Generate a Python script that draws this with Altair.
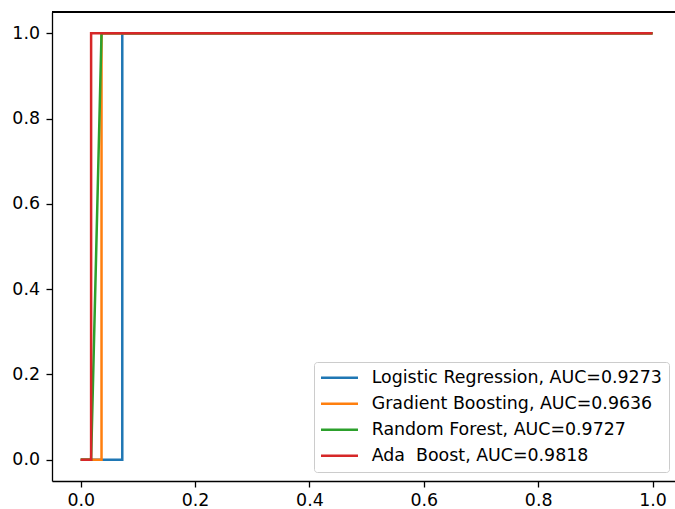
import altair as alt
import pandas as pd

models = ["Logistic Regression, AUC=0.9273", "Gradient Boosting, AUC=0.9636",
          "Random Forest, AUC=0.9727", "Ada\u00a0 Boost, AUC=0.9818"]
colors = ["#1f77b4", "#ff7f0e", "#2ca02c", "#d62728"]
fpr = [
    [0.0, 0.0727, 0.0727, 1.0],
    [0.0, 0.0364, 0.0364, 1.0],
    [0.0, 0.0182, 0.0364, 1.0],
    [0.0, 0.0182, 0.0182, 1.0],
]
tpr = [
    [0.0, 0.0, 1.0, 1.0],
    [0.0, 0.0, 1.0, 1.0],
    [0.0, 0.0, 1.0, 1.0],
    [0.0, 0.0, 1.0, 1.0],
]
ticks = [0.0, 0.2, 0.4, 0.6, 0.8, 1.0]

rows = []
for m, xs, ys in zip(models, fpr, tpr):
    for i, (x, y) in enumerate(zip(xs, ys)):
        rows.append({"model": m, "fpr": x, "tpr": y, "i": i})
df = pd.DataFrame(rows)

W, H = 623, 469
FS = 17.4
FONT = "DejaVu Sans"

axis_common = dict(
    grid=False, domainColor="black", domainWidth=1.3, tickColor="black",
    tickWidth=1.3, tickSize=6, labelFontSize=FS,
    labelFont=FONT, labelColor="black", title=None, values=ticks, format=".1f",
    labelFlush=False,
)

lines = alt.Chart(df).mark_line(strokeWidth=2.5, clip=True).encode(
    x=alt.X("fpr:Q", scale=alt.Scale(domain=[-0.0502, 1.0393], nice=False, zero=False),
            axis=alt.Axis(labelPadding=4.5, **axis_common)),
    y=alt.Y("tpr:Q", scale=alt.Scale(domain=[-0.05, 1.05], nice=False, zero=False),
            axis=alt.Axis(labelPadding=6.5, **axis_common)),
    color=alt.Color("model:N", scale=alt.Scale(domain=models, range=colors),
                    sort=models,
                    legend=alt.Legend(
                        orient="none", legendX=262, legendY=350, title=None,
                        fillColor="white", strokeColor="#cccccc", cornerRadius=3,
                        padding=7, labelFont=FONT, labelFontSize=FS, labelColor="black",
                        labelLimit=0,
                        symbolType="M-3,0H3", symbolSize=152, symbolStrokeWidth=2.5,
                        symbolOffset=9.8, rowPadding=7.0, labelOffset=23.5,
                    )),
    order="i:Q",
)

top = alt.Chart(df).mark_rule(color="black", strokeWidth=1.3).encode(
    x=alt.value(0), x2=alt.value(W), y=alt.value(0)
)

chart = alt.layer(lines, top).properties(
    width=W, height=H,
    autosize=alt.AutoSizeParams(type="none"),
    padding={"left": 52, "top": 12, "right": 0, "bottom": 28},
    background="white",
).configure_view(stroke=None)

chart.save("out.html", embed_options={"renderer": "svg", "actions": False})
